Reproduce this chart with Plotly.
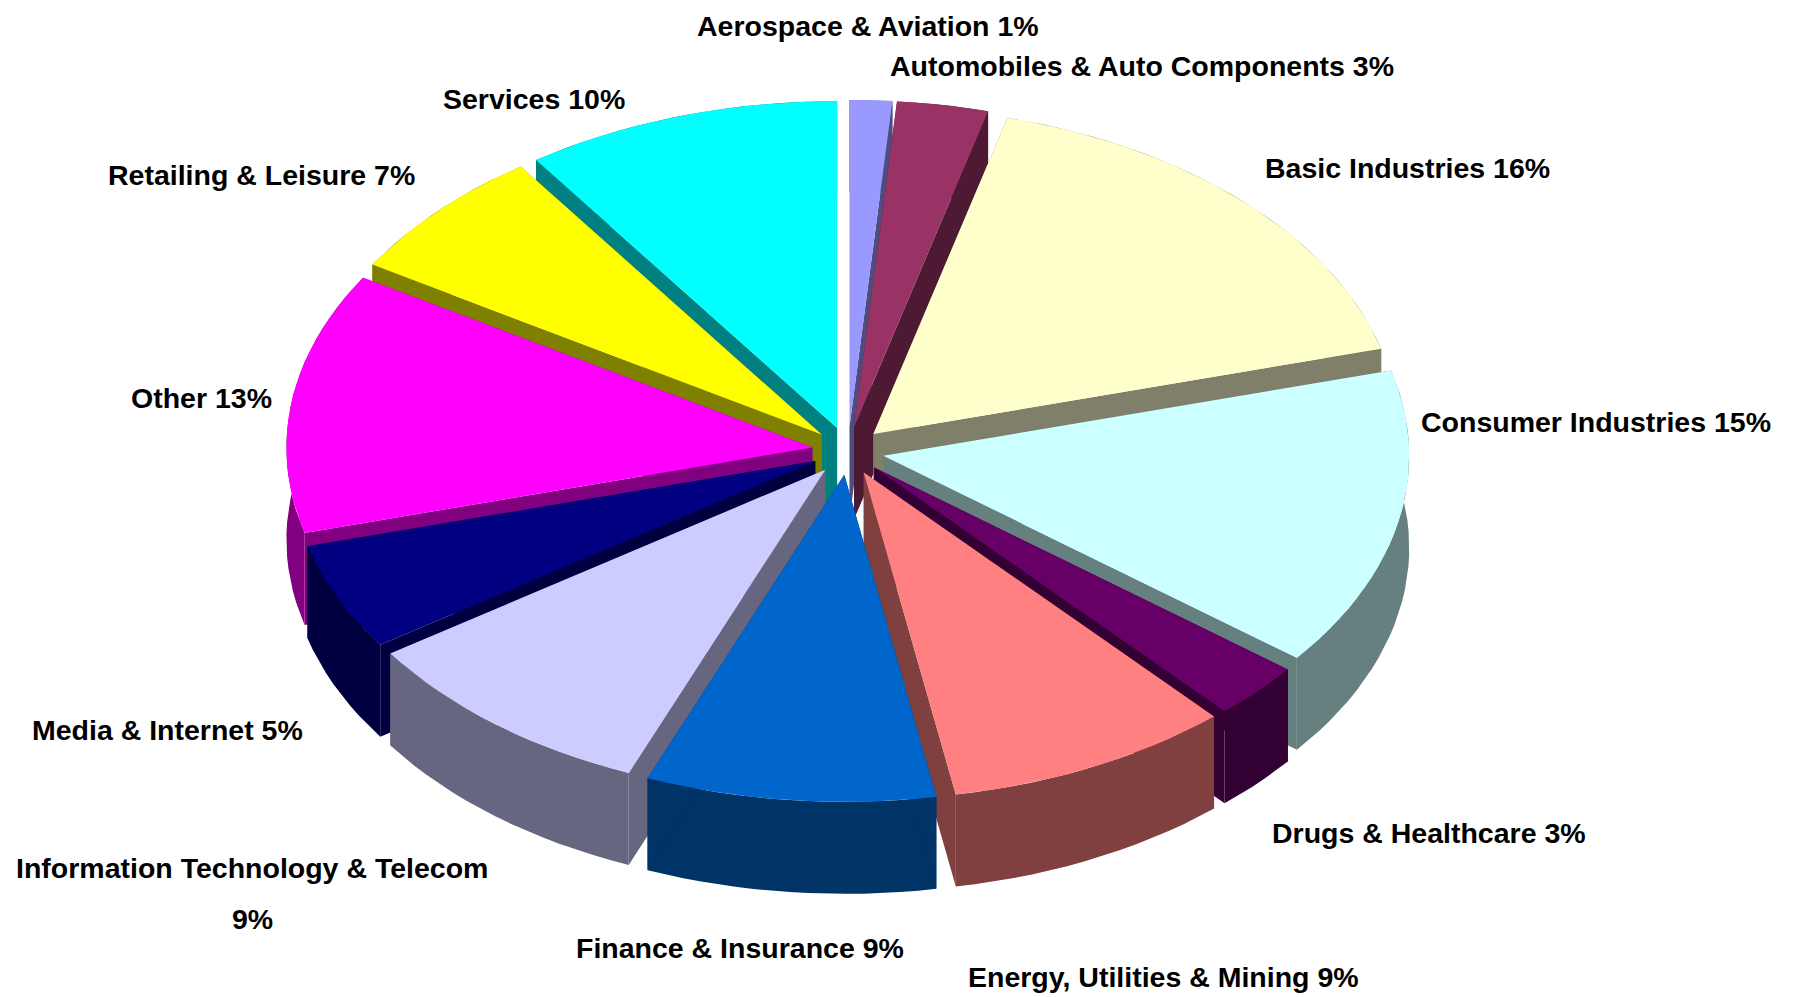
import math
import plotly.graph_objects as go

categories = ["Aerospace & Aviation", "Automobiles & Auto Components", "Basic Industries",
              "Consumer Industries", "Drugs & Healthcare", "Energy, Utilities & Mining",
              "Finance & Insurance", "Information Technology & Telecom", "Media & Internet",
              "Other", "Retailing & Leisure", "Services"]
printed_pct = [1, 3, 16, 15, 3, 9, 9, 9, 5, 13, 7, 10]
# slice shares as they appear in the drawing
drawn_share = [1.3, 2.8, 16.7, 14.8, 2.8, 8.8, 8.9, 9.4, 5.3, 12.9, 6.6, 9.7]
top_colors = ["#9999FF", "#993366", "#FFFFCC", "#CCFFFF", "#660066", "#FF8080",
              "#0066CC", "#CCCCFF", "#000080", "#FF00FF", "#FFFF00", "#00FFFF"]
wall_colors = ["#4D4D80", "#4D1933", "#80806A", "#668080", "#330033", "#804040",
               "#003366", "#666680", "#000040", "#800080", "#808000", "#008080"]
label_x = [860, 1134, 1399, 1588, 1421, 1155, 732, 244, 159, 193, 253, 526]
label_y = [18, 58, 160, 414, 825, 969, 940, 860, 722, 390, 167, 91]
wrapped_pct_y = {7: 911}

CX, CY, RX, RY, EX, EY, DEPTH = 840, 443, 526, 327, 36, 24, 92
FONT = "Liberation Sans, Arial, sans-serif"
FONT_SIZE = 28.5


def point(ox, oy, deg, drop=0):
    a = math.radians(deg)
    return ox + RX * math.sin(a), oy - RY * math.cos(a) + drop


def poly(fig, pts, color, name):
    xs = [p[0] for p in pts] + [pts[0][0]]
    ys = [p[1] for p in pts] + [pts[0][1]]
    fig.add_trace(go.Scatter(x=xs, y=ys, mode="lines", fill="toself", fillcolor=color,
                             line=dict(width=0, color=color), name=name,
                             hoverinfo="name", showlegend=False))


def label(fig, x, y, text):
    fig.add_annotation(x=x, y=y, text=f"<b>{text}</b>", showarrow=False,
                       xanchor="center", yanchor="middle", align="center",
                       font=dict(family=FONT, size=FONT_SIZE, color="#000000"))


slices = []
start = 0.0
total = sum(drawn_share)
for i, share in enumerate(drawn_share):
    end = start + share / total * 360
    slices.append((i, start, end, (start + end) / 2))
    start = end

fig = go.Figure()
# painter's order: far side first, nearest to the viewer last
for i, a0, a1, mid in sorted(slices, key=lambda s: abs(s[3] - 180), reverse=True):
    m = math.radians(mid)
    ox, oy = CX + EX * math.sin(m), CY - EY * math.cos(m)
    steps = max(2, int((a1 - a0) / 2))
    arc = [a0 + (a1 - a0) * k / steps for k in range(steps + 1)]
    top = [point(ox, oy, a) for a in arc]
    low = [point(ox, oy, a, DEPTH) for a in arc]
    poly(fig, top + low[::-1], wall_colors[i], categories[i])
    poly(fig, [(ox, oy), (ox, oy + DEPTH), low[0], top[0]], wall_colors[i], categories[i])
    poly(fig, [(ox, oy), (ox, oy + DEPTH), low[-1], top[-1]], wall_colors[i], categories[i])
    poly(fig, [(ox, oy)] + top, top_colors[i], categories[i])

for i, cat in enumerate(categories):
    if i in wrapped_pct_y:
        label(fig, label_x[i], label_y[i], cat)
        label(fig, label_x[i], wrapped_pct_y[i], f"{printed_pct[i]}%")
    else:
        label(fig, label_x[i], label_y[i], f"{cat} {printed_pct[i]}%")

fig.update_layout(width=1794, height=997, margin=dict(l=0, r=0, t=0, b=0), autosize=False,
                  paper_bgcolor="#FFFFFF", plot_bgcolor="#FFFFFF", showlegend=False,
                  xaxis=dict(range=[0, 1794], visible=False, fixedrange=True),
                  yaxis=dict(range=[997, 0], visible=False, fixedrange=True))
fig.write_html("out.html")
